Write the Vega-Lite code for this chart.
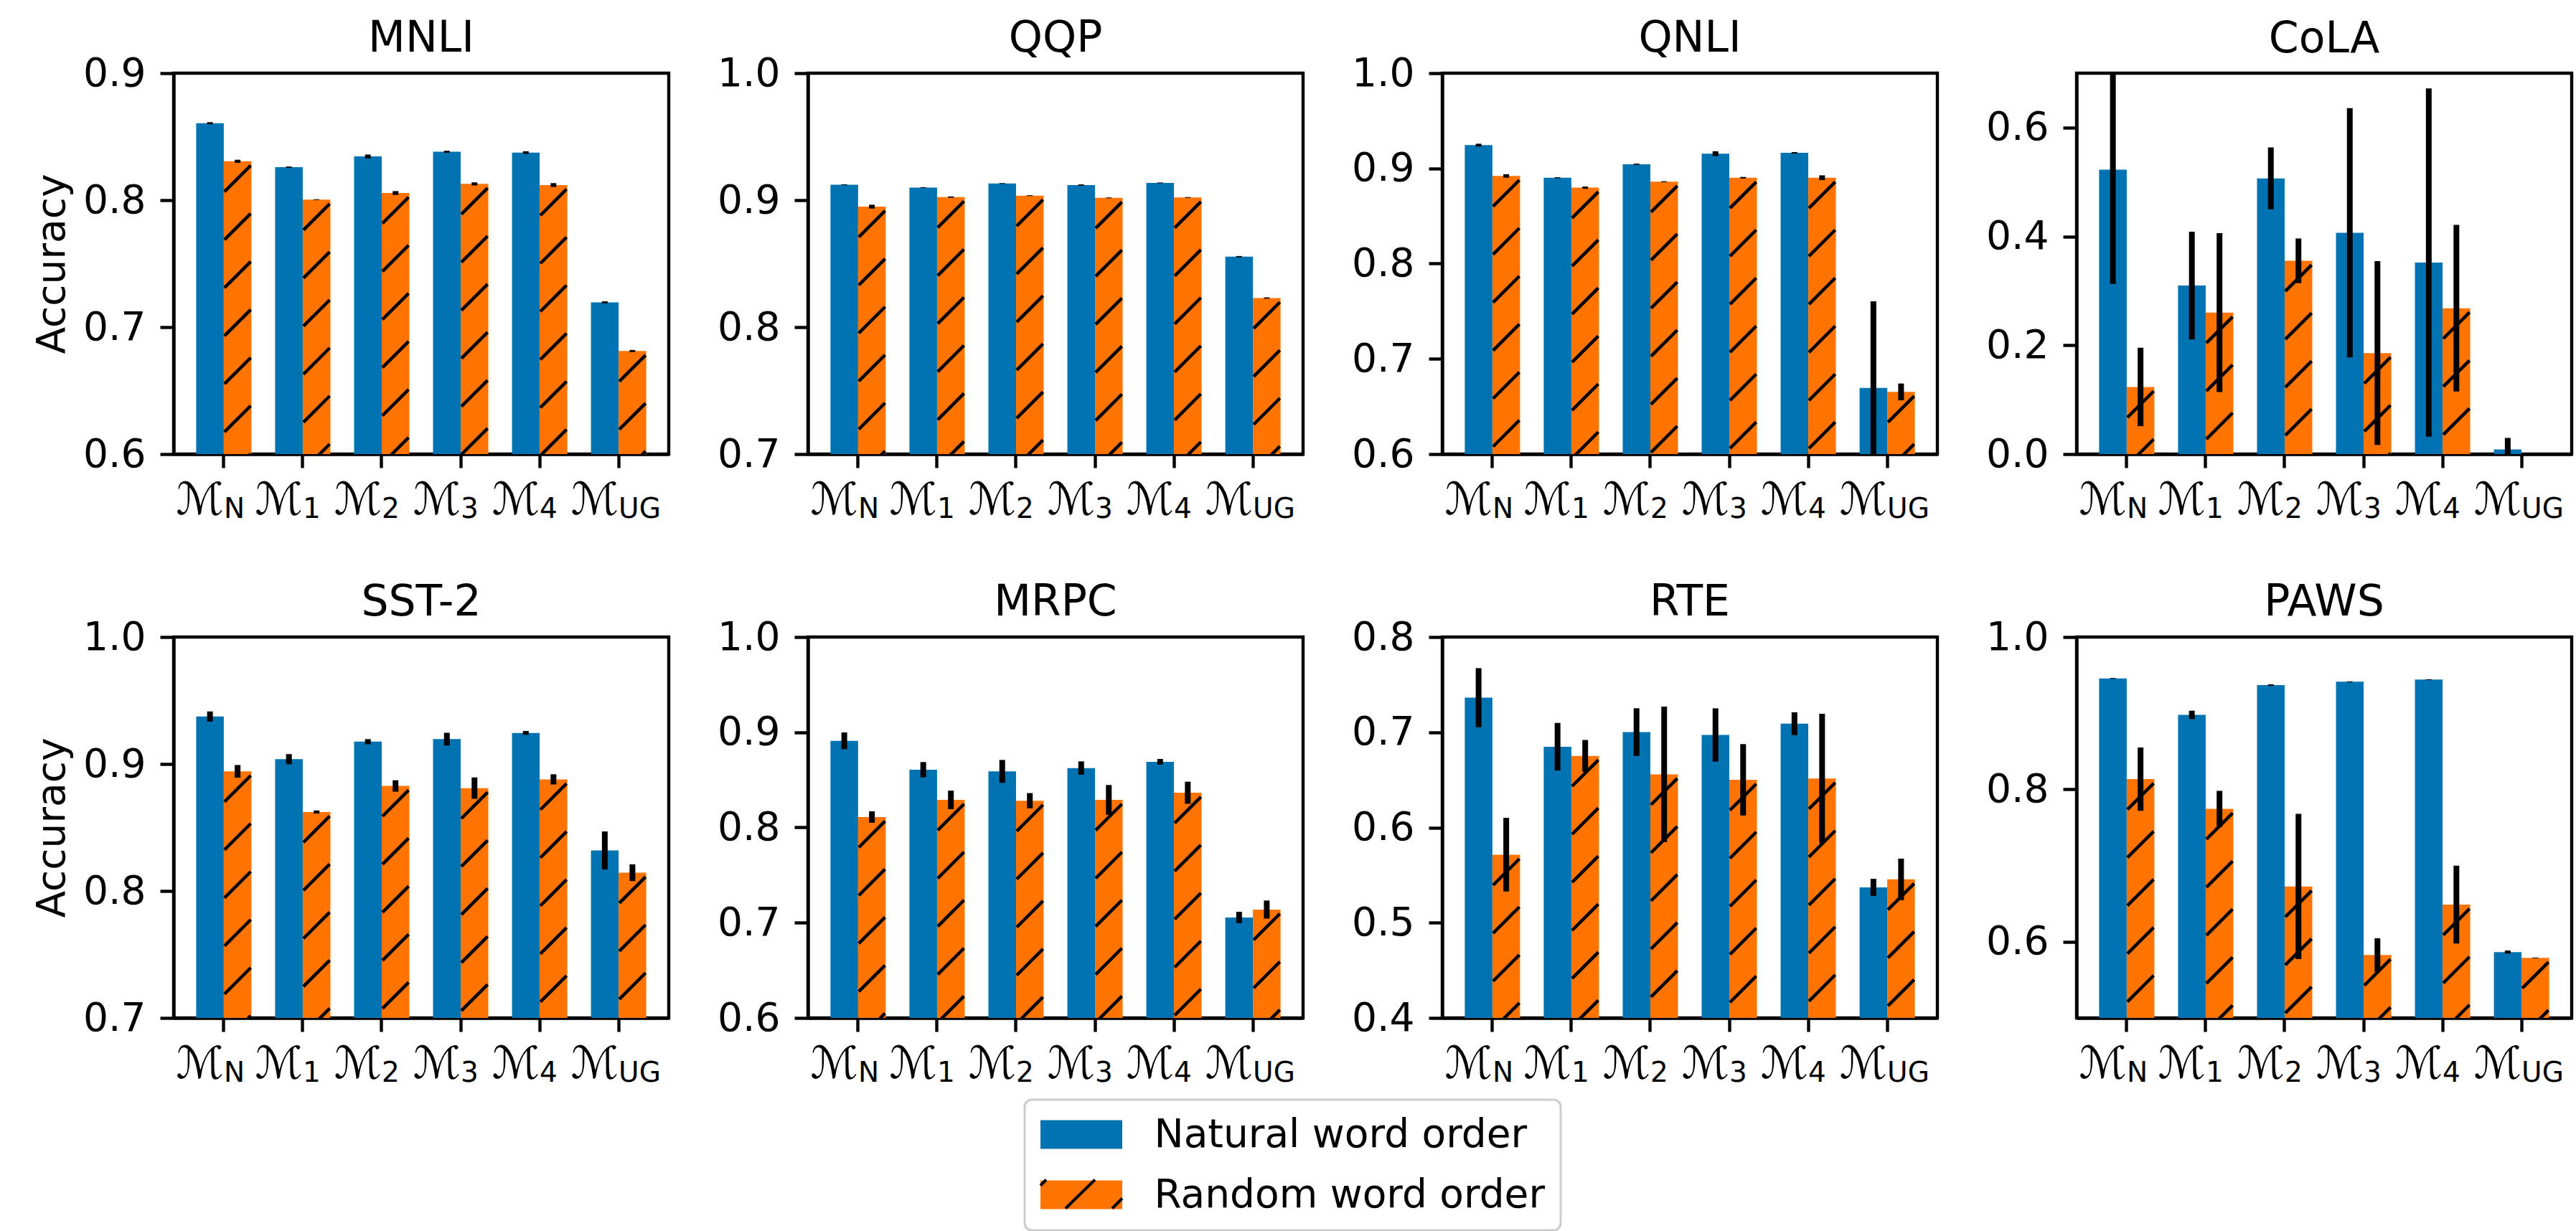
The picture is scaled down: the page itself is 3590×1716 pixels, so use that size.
{
"$schema": "https://vega.github.io/schema/vega-lite/v6.json",
"padding": {"left": 43, "top": 21, "right": 20, "bottom": 20},
"background": "white",
"data": {"values": [
{"task":"MNLI","model":"N","order":"Natural word order","acc":0.8606,"lo":0.8598,"hi":0.8614},
{"task":"MNLI","model":"N","order":"Random word order","acc":0.8306,"lo":0.8294,"hi":0.8318},
{"task":"MNLI","model":"1","order":"Natural word order","acc":0.826,"lo":0.8255,"hi":0.8265},
{"task":"MNLI","model":"1","order":"Random word order","acc":0.8004,"lo":0.8001,"hi":0.8007},
{"task":"MNLI","model":"2","order":"Natural word order","acc":0.8344,"lo":0.8329,"hi":0.8359},
{"task":"MNLI","model":"2","order":"Random word order","acc":0.8056,"lo":0.8041,"hi":0.8071},
{"task":"MNLI","model":"3","order":"Natural word order","acc":0.8381,"lo":0.8373,"hi":0.8389},
{"task":"MNLI","model":"3","order":"Random word order","acc":0.8128,"lo":0.8116,"hi":0.814},
{"task":"MNLI","model":"4","order":"Natural word order","acc":0.8375,"lo":0.8365,"hi":0.8385},
{"task":"MNLI","model":"4","order":"Random word order","acc":0.8119,"lo":0.8104,"hi":0.8134},
{"task":"MNLI","model":"UG","order":"Natural word order","acc":0.7195,"lo":0.7187,"hi":0.7203},
{"task":"MNLI","model":"UG","order":"Random word order","acc":0.6812,"lo":0.6804,"hi":0.682},
{"task":"QQP","model":"N","order":"Natural word order","acc":0.9122,"lo":0.9119,"hi":0.9125},
{"task":"QQP","model":"N","order":"Random word order","acc":0.8949,"lo":0.8934,"hi":0.8964},
{"task":"QQP","model":"1","order":"Natural word order","acc":0.9099,"lo":0.9096,"hi":0.9102},
{"task":"QQP","model":"1","order":"Random word order","acc":0.9024,"lo":0.9019,"hi":0.9029},
{"task":"QQP","model":"2","order":"Natural word order","acc":0.9131,"lo":0.9128,"hi":0.9134},
{"task":"QQP","model":"2","order":"Random word order","acc":0.9036,"lo":0.9033,"hi":0.9039},
{"task":"QQP","model":"3","order":"Natural word order","acc":0.9119,"lo":0.9114,"hi":0.9124},
{"task":"QQP","model":"3","order":"Random word order","acc":0.9018,"lo":0.9015,"hi":0.9021},
{"task":"QQP","model":"4","order":"Natural word order","acc":0.9136,"lo":0.9133,"hi":0.9139},
{"task":"QQP","model":"4","order":"Random word order","acc":0.9021,"lo":0.9018,"hi":0.9024},
{"task":"QQP","model":"UG","order":"Natural word order","acc":0.8555,"lo":0.855,"hi":0.856},
{"task":"QQP","model":"UG","order":"Random word order","acc":0.8229,"lo":0.8224,"hi":0.8234},
{"task":"QNLI","model":"N","order":"Natural word order","acc":0.9244,"lo":0.9229,"hi":0.9259},
{"task":"QNLI","model":"N","order":"Random word order","acc":0.8921,"lo":0.8903,"hi":0.8939},
{"task":"QNLI","model":"1","order":"Natural word order","acc":0.8902,"lo":0.8897,"hi":0.8907},
{"task":"QNLI","model":"1","order":"Random word order","acc":0.8798,"lo":0.8786,"hi":0.881},
{"task":"QNLI","model":"2","order":"Natural word order","acc":0.9044,"lo":0.9038,"hi":0.905},
{"task":"QNLI","model":"2","order":"Random word order","acc":0.886,"lo":0.8855,"hi":0.8865},
{"task":"QNLI","model":"3","order":"Natural word order","acc":0.9155,"lo":0.913,"hi":0.918},
{"task":"QNLI","model":"3","order":"Random word order","acc":0.8902,"lo":0.8894,"hi":0.891},
{"task":"QNLI","model":"4","order":"Natural word order","acc":0.9163,"lo":0.9155,"hi":0.9171},
{"task":"QNLI","model":"4","order":"Random word order","acc":0.8902,"lo":0.8877,"hi":0.8927},
{"task":"QNLI","model":"UG","order":"Natural word order","acc":0.6695,"lo":0.5785,"hi":0.7605},
{"task":"QNLI","model":"UG","order":"Random word order","acc":0.6653,"lo":0.6565,"hi":0.6741},
{"task":"CoLA","model":"N","order":"Natural word order","acc":0.5228,"lo":0.3128,"hi":0.7328},
{"task":"CoLA","model":"N","order":"Random word order","acc":0.1233,"lo":0.0513,"hi":0.1953},
{"task":"CoLA","model":"1","order":"Natural word order","acc":0.3097,"lo":0.2107,"hi":0.4087},
{"task":"CoLA","model":"1","order":"Random word order","acc":0.26,"lo":0.114,"hi":0.406},
{"task":"CoLA","model":"2","order":"Natural word order","acc":0.5067,"lo":0.4497,"hi":0.5637},
{"task":"CoLA","model":"2","order":"Random word order","acc":0.3552,"lo":0.3142,"hi":0.3962},
{"task":"CoLA","model":"3","order":"Natural word order","acc":0.4068,"lo":0.1778,"hi":0.6358},
{"task":"CoLA","model":"3","order":"Random word order","acc":0.1857,"lo":0.0167,"hi":0.3547},
{"task":"CoLA","model":"4","order":"Natural word order","acc":0.3519,"lo":0.0319,"hi":0.6719},
{"task":"CoLA","model":"4","order":"Random word order","acc":0.2681,"lo":0.1151,"hi":0.4211},
{"task":"CoLA","model":"UG","order":"Natural word order","acc":0.0087,"lo":-0.0123,"hi":0.0297},
{"task":"CoLA","model":"UG","order":"Random word order","acc":0,"lo":0,"hi":0},
{"task":"SST-2","model":"N","order":"Natural word order","acc":0.9374,"lo":0.9334,"hi":0.9414},
{"task":"SST-2","model":"N","order":"Random word order","acc":0.8942,"lo":0.8892,"hi":0.8992},
{"task":"SST-2","model":"1","order":"Natural word order","acc":0.9038,"lo":0.8998,"hi":0.9078},
{"task":"SST-2","model":"1","order":"Random word order","acc":0.8622,"lo":0.861,"hi":0.8634},
{"task":"SST-2","model":"2","order":"Natural word order","acc":0.9176,"lo":0.9156,"hi":0.9196},
{"task":"SST-2","model":"2","order":"Random word order","acc":0.8827,"lo":0.8782,"hi":0.8872},
{"task":"SST-2","model":"3","order":"Natural word order","acc":0.9196,"lo":0.9146,"hi":0.9246},
{"task":"SST-2","model":"3","order":"Random word order","acc":0.881,"lo":0.8726,"hi":0.8894},
{"task":"SST-2","model":"4","order":"Natural word order","acc":0.9245,"lo":0.923,"hi":0.926},
{"task":"SST-2","model":"4","order":"Random word order","acc":0.8879,"lo":0.8839,"hi":0.8919},
{"task":"SST-2","model":"UG","order":"Natural word order","acc":0.8319,"lo":0.8169,"hi":0.8469},
{"task":"SST-2","model":"UG","order":"Random word order","acc":0.8144,"lo":0.8078,"hi":0.821},
{"task":"MRPC","model":"N","order":"Natural word order","acc":0.891,"lo":0.8822,"hi":0.8998},
{"task":"MRPC","model":"N","order":"Random word order","acc":0.811,"lo":0.805,"hi":0.817},
{"task":"MRPC","model":"1","order":"Natural word order","acc":0.8607,"lo":0.8527,"hi":0.8687},
{"task":"MRPC","model":"1","order":"Random word order","acc":0.829,"lo":0.8193,"hi":0.8387},
{"task":"MRPC","model":"2","order":"Natural word order","acc":0.8589,"lo":0.8469,"hi":0.8709},
{"task":"MRPC","model":"2","order":"Random word order","acc":0.8281,"lo":0.8201,"hi":0.8361},
{"task":"MRPC","model":"3","order":"Natural word order","acc":0.8624,"lo":0.8554,"hi":0.8694},
{"task":"MRPC","model":"3","order":"Random word order","acc":0.829,"lo":0.8134,"hi":0.8446},
{"task":"MRPC","model":"4","order":"Natural word order","acc":0.869,"lo":0.866,"hi":0.872},
{"task":"MRPC","model":"4","order":"Random word order","acc":0.8365,"lo":0.8249,"hi":0.8481},
{"task":"MRPC","model":"UG","order":"Natural word order","acc":0.7055,"lo":0.6995,"hi":0.7115},
{"task":"MRPC","model":"UG","order":"Random word order","acc":0.7138,"lo":0.7043,"hi":0.7233},
{"task":"RTE","model":"N","order":"Natural word order","acc":0.7363,"lo":0.7053,"hi":0.7673},
{"task":"RTE","model":"N","order":"Random word order","acc":0.5714,"lo":0.5327,"hi":0.6101},
{"task":"RTE","model":"1","order":"Natural word order","acc":0.6848,"lo":0.6598,"hi":0.7098},
{"task":"RTE","model":"1","order":"Random word order","acc":0.6752,"lo":0.6585,"hi":0.6919},
{"task":"RTE","model":"2","order":"Natural word order","acc":0.7002,"lo":0.6752,"hi":0.7252},
{"task":"RTE","model":"2","order":"Random word order","acc":0.6558,"lo":0.5846,"hi":0.727},
{"task":"RTE","model":"3","order":"Natural word order","acc":0.6971,"lo":0.6691,"hi":0.7251},
{"task":"RTE","model":"3","order":"Random word order","acc":0.6501,"lo":0.6127,"hi":0.6875},
{"task":"RTE","model":"4","order":"Natural word order","acc":0.709,"lo":0.697,"hi":0.721},
{"task":"RTE","model":"4","order":"Random word order","acc":0.6514,"lo":0.5834,"hi":0.7194},
{"task":"RTE","model":"UG","order":"Natural word order","acc":0.5371,"lo":0.5281,"hi":0.5461},
{"task":"RTE","model":"UG","order":"Random word order","acc":0.5455,"lo":0.5237,"hi":0.5673},
{"task":"PAWS","model":"N","order":"Natural word order","acc":0.9457,"lo":0.9452,"hi":0.9462},
{"task":"PAWS","model":"N","order":"Random word order","acc":0.8135,"lo":0.7719,"hi":0.8551},
{"task":"PAWS","model":"1","order":"Natural word order","acc":0.8978,"lo":0.8923,"hi":0.9033},
{"task":"PAWS","model":"1","order":"Random word order","acc":0.7744,"lo":0.7507,"hi":0.7981},
{"task":"PAWS","model":"2","order":"Natural word order","acc":0.9369,"lo":0.9359,"hi":0.9379},
{"task":"PAWS","model":"2","order":"Random word order","acc":0.6725,"lo":0.5772,"hi":0.7678},
{"task":"PAWS","model":"3","order":"Natural word order","acc":0.9413,"lo":0.9408,"hi":0.9418},
{"task":"PAWS","model":"3","order":"Random word order","acc":0.5826,"lo":0.5606,"hi":0.6046},
{"task":"PAWS","model":"4","order":"Natural word order","acc":0.9441,"lo":0.9436,"hi":0.9446},
{"task":"PAWS","model":"4","order":"Random word order","acc":0.6488,"lo":0.5978,"hi":0.6998},
{"task":"PAWS","model":"UG","order":"Natural word order","acc":0.5865,"lo":0.5845,"hi":0.5885},
{"task":"PAWS","model":"UG","order":"Random word order","acc":0.5788,"lo":0.5783,"hi":0.5793}
]},
"columns": 4,
"spacing": {"row": 255, "column": 194},
"bounds": "flush",
"concat": [
{"title": {"text": "MNLI"}, "width": 690, "height": 531,
 "transform": [{"filter": "datum.task === 'MNLI'"}],
 "encoding": {
  "x": {"field": "model", "type": "nominal", "title": null, "scale": {"domain": ["N","1","2","3","4","UG"], "paddingInner": 0.3, "paddingOuter": 0.285}, "axis": {"orient": "bottom", "labelExpr": "'ℳ'", "labelAngle": 0, "labelFontSize": 62, "labelAlign": "right", "labelBaseline": "alphabetic", "labelPadding": 64, "labelOverlap": false}},
  "xOffset": {"field": "order", "type": "nominal", "scale": {"domain": ["Natural word order","Random word order"], "paddingInner": 0, "paddingOuter": 0}},
  "y": {"field": "acc", "type": "quantitative", "title": "Accuracy", "scale": {"domain": [0.6,0.9], "zero": false, "nice": false}, "axis": {"values": [0.6,0.7,0.8,0.9], "format": ".1f", "titlePadding": 14}}
 },
 "layer": [
  {"mark": {"type": "bar", "clip": true}, "encoding": {"fill": {"field": "order", "type": "nominal", "scale": {"domain": ["Natural word order","Random word order"], "range": ["#0173B2","#FF7400"]}, "legend": {"orient": "none", "legendX": 1186, "legendY": 1431, "title": null, "symbolType": "M-2.85,-1H2.85V1H-2.85Z", "symbolSize": 1600, "symbolStrokeWidth": 0, "symbolOffset": 30.5, "labelOffset": 74, "labelFontSize": 55, "labelFont": "DejaVu Sans", "labelColor": "black", "labelLimit": 2000, "rowPadding": 28, "padding": 21, "strokeColor": "#cccccc", "cornerRadius": 10, "fillColor": "white", "symbolOpacity": 1}}}},
  {"transform": [{"filter": "datum.order === 'Random word order'"}], "mark": {"type": "point", "clip": true, "filled": false, "opacity": 1, "strokeWidth": 4.5, "size": 1482, "shape": "M-0.95,2.2L0.95,0.3M-0.95,5.68L0.95,3.78M-0.95,9.16L0.95,7.26M-0.95,12.64L0.95,10.74M-0.95,16.12L0.95,14.22M-0.95,19.6L0.95,17.7M-0.95,23.08L0.95,21.18M-0.95,26.56L0.95,24.66M-0.95,30.04L0.95,28.14"}, "encoding": {"x": {"field": "model", "type": "nominal", "title": null, "axis": null}, "stroke": {"field": "order", "type": "nominal", "scale": {"domain": ["Random word order"], "range": ["black"]}, "legend": {"orient": "none", "legendX": 1186, "legendY": 1514, "title": null, "symbolType": "M-1.1,1L0.95,-1M2.15,1L2.85,0.3M-2.85,-0.6L-2.45,-1", "symbolSize": 1600, "symbolStrokeWidth": 4, "symbolOffset": 30.5, "labelOffset": 74, "labelFontSize": 55, "labelLimit": 2000, "labelColor": "transparent", "padding": 21, "strokeColor": "transparent", "symbolFillColor": "transparent"}}}},
  {"mark": {"type": "rule", "clip": true, "color": "black", "strokeWidth": 8}, "encoding": {"x": {"field": "model", "type": "nominal", "title": null, "axis": {"orient": "bottom", "labelExpr": "datum.value", "labelAngle": 0, "labelFontSize": 39, "labelAlign": "left", "labelBaseline": "alphabetic", "labelPadding": 88, "labelOverlap": false, "domain": false, "ticks": false}}, "y": {"field": "lo", "type": "quantitative", "title": "Accuracy"}, "y2": {"field": "hi"}}}
 ],
 "resolve": {"axis": {"x": "independent"}}
},
{"title": {"text": "QQP"}, "width": 690, "height": 531,
 "transform": [{"filter": "datum.task === 'QQP'"}],
 "encoding": {
  "x": {"field": "model", "type": "nominal", "title": null, "scale": {"domain": ["N","1","2","3","4","UG"], "paddingInner": 0.3, "paddingOuter": 0.285}, "axis": {"orient": "bottom", "labelExpr": "'ℳ'", "labelAngle": 0, "labelFontSize": 62, "labelAlign": "right", "labelBaseline": "alphabetic", "labelPadding": 64, "labelOverlap": false}},
  "xOffset": {"field": "order", "type": "nominal", "scale": {"domain": ["Natural word order","Random word order"], "paddingInner": 0, "paddingOuter": 0}},
  "y": {"field": "acc", "type": "quantitative", "title": null, "scale": {"domain": [0.7,1.0], "zero": false, "nice": false}, "axis": {"values": [0.7,0.8,0.9,1.0], "format": ".1f"}}
 },
 "layer": [
  {"mark": {"type": "bar", "clip": true}, "encoding": {"fill": {"field": "order", "type": "nominal", "scale": {"domain": ["Natural word order","Random word order"], "range": ["#0173B2","#FF7400"]}, "legend": {"orient": "none", "legendX": 1186, "legendY": 1431, "title": null, "symbolType": "M-2.85,-1H2.85V1H-2.85Z", "symbolSize": 1600, "symbolStrokeWidth": 0, "symbolOffset": 30.5, "labelOffset": 74, "labelFontSize": 55, "labelFont": "DejaVu Sans", "labelColor": "black", "labelLimit": 2000, "rowPadding": 28, "padding": 21, "strokeColor": "#cccccc", "cornerRadius": 10, "fillColor": "white", "symbolOpacity": 1}}}},
  {"transform": [{"filter": "datum.order === 'Random word order'"}], "mark": {"type": "point", "clip": true, "filled": false, "opacity": 1, "strokeWidth": 4.5, "size": 1482, "shape": "M-0.95,2.2L0.95,0.3M-0.95,5.68L0.95,3.78M-0.95,9.16L0.95,7.26M-0.95,12.64L0.95,10.74M-0.95,16.12L0.95,14.22M-0.95,19.6L0.95,17.7M-0.95,23.08L0.95,21.18M-0.95,26.56L0.95,24.66M-0.95,30.04L0.95,28.14"}, "encoding": {"x": {"field": "model", "type": "nominal", "title": null, "axis": null}, "stroke": {"field": "order", "type": "nominal", "scale": {"domain": ["Random word order"], "range": ["black"]}, "legend": {"orient": "none", "legendX": 1186, "legendY": 1514, "title": null, "symbolType": "M-1.1,1L0.95,-1M2.15,1L2.85,0.3M-2.85,-0.6L-2.45,-1", "symbolSize": 1600, "symbolStrokeWidth": 4, "symbolOffset": 30.5, "labelOffset": 74, "labelFontSize": 55, "labelLimit": 2000, "labelColor": "transparent", "padding": 21, "strokeColor": "transparent", "symbolFillColor": "transparent"}}}},
  {"mark": {"type": "rule", "clip": true, "color": "black", "strokeWidth": 8}, "encoding": {"x": {"field": "model", "type": "nominal", "title": null, "axis": {"orient": "bottom", "labelExpr": "datum.value", "labelAngle": 0, "labelFontSize": 39, "labelAlign": "left", "labelBaseline": "alphabetic", "labelPadding": 88, "labelOverlap": false, "domain": false, "ticks": false}}, "y": {"field": "lo", "type": "quantitative", "title": null}, "y2": {"field": "hi"}}}
 ],
 "resolve": {"axis": {"x": "independent"}}
},
{"title": {"text": "QNLI"}, "width": 690, "height": 531,
 "transform": [{"filter": "datum.task === 'QNLI'"}],
 "encoding": {
  "x": {"field": "model", "type": "nominal", "title": null, "scale": {"domain": ["N","1","2","3","4","UG"], "paddingInner": 0.3, "paddingOuter": 0.285}, "axis": {"orient": "bottom", "labelExpr": "'ℳ'", "labelAngle": 0, "labelFontSize": 62, "labelAlign": "right", "labelBaseline": "alphabetic", "labelPadding": 64, "labelOverlap": false}},
  "xOffset": {"field": "order", "type": "nominal", "scale": {"domain": ["Natural word order","Random word order"], "paddingInner": 0, "paddingOuter": 0}},
  "y": {"field": "acc", "type": "quantitative", "title": null, "scale": {"domain": [0.6,1.0], "zero": false, "nice": false}, "axis": {"values": [0.6,0.7,0.8,0.9,1.0], "format": ".1f"}}
 },
 "layer": [
  {"mark": {"type": "bar", "clip": true}, "encoding": {"fill": {"field": "order", "type": "nominal", "scale": {"domain": ["Natural word order","Random word order"], "range": ["#0173B2","#FF7400"]}, "legend": {"orient": "none", "legendX": 1186, "legendY": 1431, "title": null, "symbolType": "M-2.85,-1H2.85V1H-2.85Z", "symbolSize": 1600, "symbolStrokeWidth": 0, "symbolOffset": 30.5, "labelOffset": 74, "labelFontSize": 55, "labelFont": "DejaVu Sans", "labelColor": "black", "labelLimit": 2000, "rowPadding": 28, "padding": 21, "strokeColor": "#cccccc", "cornerRadius": 10, "fillColor": "white", "symbolOpacity": 1}}}},
  {"transform": [{"filter": "datum.order === 'Random word order'"}], "mark": {"type": "point", "clip": true, "filled": false, "opacity": 1, "strokeWidth": 4.5, "size": 1482, "shape": "M-0.95,2.2L0.95,0.3M-0.95,5.68L0.95,3.78M-0.95,9.16L0.95,7.26M-0.95,12.64L0.95,10.74M-0.95,16.12L0.95,14.22M-0.95,19.6L0.95,17.7M-0.95,23.08L0.95,21.18M-0.95,26.56L0.95,24.66M-0.95,30.04L0.95,28.14"}, "encoding": {"x": {"field": "model", "type": "nominal", "title": null, "axis": null}, "stroke": {"field": "order", "type": "nominal", "scale": {"domain": ["Random word order"], "range": ["black"]}, "legend": {"orient": "none", "legendX": 1186, "legendY": 1514, "title": null, "symbolType": "M-1.1,1L0.95,-1M2.15,1L2.85,0.3M-2.85,-0.6L-2.45,-1", "symbolSize": 1600, "symbolStrokeWidth": 4, "symbolOffset": 30.5, "labelOffset": 74, "labelFontSize": 55, "labelLimit": 2000, "labelColor": "transparent", "padding": 21, "strokeColor": "transparent", "symbolFillColor": "transparent"}}}},
  {"mark": {"type": "rule", "clip": true, "color": "black", "strokeWidth": 8}, "encoding": {"x": {"field": "model", "type": "nominal", "title": null, "axis": {"orient": "bottom", "labelExpr": "datum.value", "labelAngle": 0, "labelFontSize": 39, "labelAlign": "left", "labelBaseline": "alphabetic", "labelPadding": 88, "labelOverlap": false, "domain": false, "ticks": false}}, "y": {"field": "lo", "type": "quantitative", "title": null}, "y2": {"field": "hi"}}}
 ],
 "resolve": {"axis": {"x": "independent"}}
},
{"title": {"text": "CoLA", "offset": 16}, "width": 690, "height": 531,
 "transform": [{"filter": "datum.task === 'CoLA'"}],
 "encoding": {
  "x": {"field": "model", "type": "nominal", "title": null, "scale": {"domain": ["N","1","2","3","4","UG"], "paddingInner": 0.3, "paddingOuter": 0.285}, "axis": {"orient": "bottom", "labelExpr": "'ℳ'", "labelAngle": 0, "labelFontSize": 62, "labelAlign": "right", "labelBaseline": "alphabetic", "labelPadding": 64, "labelOverlap": false}},
  "xOffset": {"field": "order", "type": "nominal", "scale": {"domain": ["Natural word order","Random word order"], "paddingInner": 0, "paddingOuter": 0}},
  "y": {"field": "acc", "type": "quantitative", "title": null, "scale": {"domain": [0,0.7], "zero": false, "nice": false}, "axis": {"values": [0,0.2,0.4,0.6], "format": ".1f"}}
 },
 "layer": [
  {"mark": {"type": "bar", "clip": true}, "encoding": {"fill": {"field": "order", "type": "nominal", "scale": {"domain": ["Natural word order","Random word order"], "range": ["#0173B2","#FF7400"]}, "legend": {"orient": "none", "legendX": 1186, "legendY": 1431, "title": null, "symbolType": "M-2.85,-1H2.85V1H-2.85Z", "symbolSize": 1600, "symbolStrokeWidth": 0, "symbolOffset": 30.5, "labelOffset": 74, "labelFontSize": 55, "labelFont": "DejaVu Sans", "labelColor": "black", "labelLimit": 2000, "rowPadding": 28, "padding": 21, "strokeColor": "#cccccc", "cornerRadius": 10, "fillColor": "white", "symbolOpacity": 1}}}},
  {"transform": [{"filter": "datum.order === 'Random word order'"}], "mark": {"type": "point", "clip": true, "filled": false, "opacity": 1, "strokeWidth": 4.5, "size": 1482, "shape": "M-0.95,2.2L0.95,0.3M-0.95,5.68L0.95,3.78M-0.95,9.16L0.95,7.26M-0.95,12.64L0.95,10.74M-0.95,16.12L0.95,14.22M-0.95,19.6L0.95,17.7M-0.95,23.08L0.95,21.18M-0.95,26.56L0.95,24.66M-0.95,30.04L0.95,28.14"}, "encoding": {"x": {"field": "model", "type": "nominal", "title": null, "axis": null}, "stroke": {"field": "order", "type": "nominal", "scale": {"domain": ["Random word order"], "range": ["black"]}, "legend": {"orient": "none", "legendX": 1186, "legendY": 1514, "title": null, "symbolType": "M-1.1,1L0.95,-1M2.15,1L2.85,0.3M-2.85,-0.6L-2.45,-1", "symbolSize": 1600, "symbolStrokeWidth": 4, "symbolOffset": 30.5, "labelOffset": 74, "labelFontSize": 55, "labelLimit": 2000, "labelColor": "transparent", "padding": 21, "strokeColor": "transparent", "symbolFillColor": "transparent"}}}},
  {"mark": {"type": "rule", "clip": true, "color": "black", "strokeWidth": 8}, "encoding": {"x": {"field": "model", "type": "nominal", "title": null, "axis": {"orient": "bottom", "labelExpr": "datum.value", "labelAngle": 0, "labelFontSize": 39, "labelAlign": "left", "labelBaseline": "alphabetic", "labelPadding": 88, "labelOverlap": false, "domain": false, "ticks": false}}, "y": {"field": "lo", "type": "quantitative", "title": null}, "y2": {"field": "hi"}}}
 ],
 "resolve": {"axis": {"x": "independent"}}
},
{"title": {"text": "SST-2"}, "width": 690, "height": 531,
 "transform": [{"filter": "datum.task === 'SST-2'"}],
 "encoding": {
  "x": {"field": "model", "type": "nominal", "title": null, "scale": {"domain": ["N","1","2","3","4","UG"], "paddingInner": 0.3, "paddingOuter": 0.285}, "axis": {"orient": "bottom", "labelExpr": "'ℳ'", "labelAngle": 0, "labelFontSize": 62, "labelAlign": "right", "labelBaseline": "alphabetic", "labelPadding": 64, "labelOverlap": false}},
  "xOffset": {"field": "order", "type": "nominal", "scale": {"domain": ["Natural word order","Random word order"], "paddingInner": 0, "paddingOuter": 0}},
  "y": {"field": "acc", "type": "quantitative", "title": "Accuracy", "scale": {"domain": [0.7,1.0], "zero": false, "nice": false}, "axis": {"values": [0.7,0.8,0.9,1.0], "format": ".1f", "titlePadding": 14}}
 },
 "layer": [
  {"mark": {"type": "bar", "clip": true}, "encoding": {"fill": {"field": "order", "type": "nominal", "scale": {"domain": ["Natural word order","Random word order"], "range": ["#0173B2","#FF7400"]}, "legend": {"orient": "none", "legendX": 1186, "legendY": 1431, "title": null, "symbolType": "M-2.85,-1H2.85V1H-2.85Z", "symbolSize": 1600, "symbolStrokeWidth": 0, "symbolOffset": 30.5, "labelOffset": 74, "labelFontSize": 55, "labelFont": "DejaVu Sans", "labelColor": "black", "labelLimit": 2000, "rowPadding": 28, "padding": 21, "strokeColor": "#cccccc", "cornerRadius": 10, "fillColor": "white", "symbolOpacity": 1}}}},
  {"transform": [{"filter": "datum.order === 'Random word order'"}], "mark": {"type": "point", "clip": true, "filled": false, "opacity": 1, "strokeWidth": 4.5, "size": 1482, "shape": "M-0.95,2.2L0.95,0.3M-0.95,5.68L0.95,3.78M-0.95,9.16L0.95,7.26M-0.95,12.64L0.95,10.74M-0.95,16.12L0.95,14.22M-0.95,19.6L0.95,17.7M-0.95,23.08L0.95,21.18M-0.95,26.56L0.95,24.66M-0.95,30.04L0.95,28.14"}, "encoding": {"x": {"field": "model", "type": "nominal", "title": null, "axis": null}, "stroke": {"field": "order", "type": "nominal", "scale": {"domain": ["Random word order"], "range": ["black"]}, "legend": {"orient": "none", "legendX": 1186, "legendY": 1514, "title": null, "symbolType": "M-1.1,1L0.95,-1M2.15,1L2.85,0.3M-2.85,-0.6L-2.45,-1", "symbolSize": 1600, "symbolStrokeWidth": 4, "symbolOffset": 30.5, "labelOffset": 74, "labelFontSize": 55, "labelLimit": 2000, "labelColor": "transparent", "padding": 21, "strokeColor": "transparent", "symbolFillColor": "transparent"}}}},
  {"mark": {"type": "rule", "clip": true, "color": "black", "strokeWidth": 8}, "encoding": {"x": {"field": "model", "type": "nominal", "title": null, "axis": {"orient": "bottom", "labelExpr": "datum.value", "labelAngle": 0, "labelFontSize": 39, "labelAlign": "left", "labelBaseline": "alphabetic", "labelPadding": 88, "labelOverlap": false, "domain": false, "ticks": false}}, "y": {"field": "lo", "type": "quantitative", "title": "Accuracy"}, "y2": {"field": "hi"}}}
 ],
 "resolve": {"axis": {"x": "independent"}}
},
{"title": {"text": "MRPC"}, "width": 690, "height": 531,
 "transform": [{"filter": "datum.task === 'MRPC'"}],
 "encoding": {
  "x": {"field": "model", "type": "nominal", "title": null, "scale": {"domain": ["N","1","2","3","4","UG"], "paddingInner": 0.3, "paddingOuter": 0.285}, "axis": {"orient": "bottom", "labelExpr": "'ℳ'", "labelAngle": 0, "labelFontSize": 62, "labelAlign": "right", "labelBaseline": "alphabetic", "labelPadding": 64, "labelOverlap": false}},
  "xOffset": {"field": "order", "type": "nominal", "scale": {"domain": ["Natural word order","Random word order"], "paddingInner": 0, "paddingOuter": 0}},
  "y": {"field": "acc", "type": "quantitative", "title": null, "scale": {"domain": [0.6,1.0], "zero": false, "nice": false}, "axis": {"values": [0.6,0.7,0.8,0.9,1.0], "format": ".1f"}}
 },
 "layer": [
  {"mark": {"type": "bar", "clip": true}, "encoding": {"fill": {"field": "order", "type": "nominal", "scale": {"domain": ["Natural word order","Random word order"], "range": ["#0173B2","#FF7400"]}, "legend": {"orient": "none", "legendX": 1186, "legendY": 1431, "title": null, "symbolType": "M-2.85,-1H2.85V1H-2.85Z", "symbolSize": 1600, "symbolStrokeWidth": 0, "symbolOffset": 30.5, "labelOffset": 74, "labelFontSize": 55, "labelFont": "DejaVu Sans", "labelColor": "black", "labelLimit": 2000, "rowPadding": 28, "padding": 21, "strokeColor": "#cccccc", "cornerRadius": 10, "fillColor": "white", "symbolOpacity": 1}}}},
  {"transform": [{"filter": "datum.order === 'Random word order'"}], "mark": {"type": "point", "clip": true, "filled": false, "opacity": 1, "strokeWidth": 4.5, "size": 1482, "shape": "M-0.95,2.2L0.95,0.3M-0.95,5.68L0.95,3.78M-0.95,9.16L0.95,7.26M-0.95,12.64L0.95,10.74M-0.95,16.12L0.95,14.22M-0.95,19.6L0.95,17.7M-0.95,23.08L0.95,21.18M-0.95,26.56L0.95,24.66M-0.95,30.04L0.95,28.14"}, "encoding": {"x": {"field": "model", "type": "nominal", "title": null, "axis": null}, "stroke": {"field": "order", "type": "nominal", "scale": {"domain": ["Random word order"], "range": ["black"]}, "legend": {"orient": "none", "legendX": 1186, "legendY": 1514, "title": null, "symbolType": "M-1.1,1L0.95,-1M2.15,1L2.85,0.3M-2.85,-0.6L-2.45,-1", "symbolSize": 1600, "symbolStrokeWidth": 4, "symbolOffset": 30.5, "labelOffset": 74, "labelFontSize": 55, "labelLimit": 2000, "labelColor": "transparent", "padding": 21, "strokeColor": "transparent", "symbolFillColor": "transparent"}}}},
  {"mark": {"type": "rule", "clip": true, "color": "black", "strokeWidth": 8}, "encoding": {"x": {"field": "model", "type": "nominal", "title": null, "axis": {"orient": "bottom", "labelExpr": "datum.value", "labelAngle": 0, "labelFontSize": 39, "labelAlign": "left", "labelBaseline": "alphabetic", "labelPadding": 88, "labelOverlap": false, "domain": false, "ticks": false}}, "y": {"field": "lo", "type": "quantitative", "title": null}, "y2": {"field": "hi"}}}
 ],
 "resolve": {"axis": {"x": "independent"}}
},
{"title": {"text": "RTE"}, "width": 690, "height": 531,
 "transform": [{"filter": "datum.task === 'RTE'"}],
 "encoding": {
  "x": {"field": "model", "type": "nominal", "title": null, "scale": {"domain": ["N","1","2","3","4","UG"], "paddingInner": 0.3, "paddingOuter": 0.285}, "axis": {"orient": "bottom", "labelExpr": "'ℳ'", "labelAngle": 0, "labelFontSize": 62, "labelAlign": "right", "labelBaseline": "alphabetic", "labelPadding": 64, "labelOverlap": false}},
  "xOffset": {"field": "order", "type": "nominal", "scale": {"domain": ["Natural word order","Random word order"], "paddingInner": 0, "paddingOuter": 0}},
  "y": {"field": "acc", "type": "quantitative", "title": null, "scale": {"domain": [0.4,0.8], "zero": false, "nice": false}, "axis": {"values": [0.4,0.5,0.6,0.7,0.8], "format": ".1f"}}
 },
 "layer": [
  {"mark": {"type": "bar", "clip": true}, "encoding": {"fill": {"field": "order", "type": "nominal", "scale": {"domain": ["Natural word order","Random word order"], "range": ["#0173B2","#FF7400"]}, "legend": {"orient": "none", "legendX": 1186, "legendY": 1431, "title": null, "symbolType": "M-2.85,-1H2.85V1H-2.85Z", "symbolSize": 1600, "symbolStrokeWidth": 0, "symbolOffset": 30.5, "labelOffset": 74, "labelFontSize": 55, "labelFont": "DejaVu Sans", "labelColor": "black", "labelLimit": 2000, "rowPadding": 28, "padding": 21, "strokeColor": "#cccccc", "cornerRadius": 10, "fillColor": "white", "symbolOpacity": 1}}}},
  {"transform": [{"filter": "datum.order === 'Random word order'"}], "mark": {"type": "point", "clip": true, "filled": false, "opacity": 1, "strokeWidth": 4.5, "size": 1482, "shape": "M-0.95,2.2L0.95,0.3M-0.95,5.68L0.95,3.78M-0.95,9.16L0.95,7.26M-0.95,12.64L0.95,10.74M-0.95,16.12L0.95,14.22M-0.95,19.6L0.95,17.7M-0.95,23.08L0.95,21.18M-0.95,26.56L0.95,24.66M-0.95,30.04L0.95,28.14"}, "encoding": {"x": {"field": "model", "type": "nominal", "title": null, "axis": null}, "stroke": {"field": "order", "type": "nominal", "scale": {"domain": ["Random word order"], "range": ["black"]}, "legend": {"orient": "none", "legendX": 1186, "legendY": 1514, "title": null, "symbolType": "M-1.1,1L0.95,-1M2.15,1L2.85,0.3M-2.85,-0.6L-2.45,-1", "symbolSize": 1600, "symbolStrokeWidth": 4, "symbolOffset": 30.5, "labelOffset": 74, "labelFontSize": 55, "labelLimit": 2000, "labelColor": "transparent", "padding": 21, "strokeColor": "transparent", "symbolFillColor": "transparent"}}}},
  {"mark": {"type": "rule", "clip": true, "color": "black", "strokeWidth": 8}, "encoding": {"x": {"field": "model", "type": "nominal", "title": null, "axis": {"orient": "bottom", "labelExpr": "datum.value", "labelAngle": 0, "labelFontSize": 39, "labelAlign": "left", "labelBaseline": "alphabetic", "labelPadding": 88, "labelOverlap": false, "domain": false, "ticks": false}}, "y": {"field": "lo", "type": "quantitative", "title": null}, "y2": {"field": "hi"}}}
 ],
 "resolve": {"axis": {"x": "independent"}}
},
{"title": {"text": "PAWS"}, "width": 690, "height": 531,
 "transform": [{"filter": "datum.task === 'PAWS'"}],
 "encoding": {
  "x": {"field": "model", "type": "nominal", "title": null, "scale": {"domain": ["N","1","2","3","4","UG"], "paddingInner": 0.3, "paddingOuter": 0.285}, "axis": {"orient": "bottom", "labelExpr": "'ℳ'", "labelAngle": 0, "labelFontSize": 62, "labelAlign": "right", "labelBaseline": "alphabetic", "labelPadding": 64, "labelOverlap": false}},
  "xOffset": {"field": "order", "type": "nominal", "scale": {"domain": ["Natural word order","Random word order"], "paddingInner": 0, "paddingOuter": 0}},
  "y": {"field": "acc", "type": "quantitative", "title": null, "scale": {"domain": [0.5,1.0], "zero": false, "nice": false}, "axis": {"values": [0.6,0.8,1.0], "format": ".1f"}}
 },
 "layer": [
  {"mark": {"type": "bar", "clip": true}, "encoding": {"fill": {"field": "order", "type": "nominal", "scale": {"domain": ["Natural word order","Random word order"], "range": ["#0173B2","#FF7400"]}, "legend": {"orient": "none", "legendX": 1186, "legendY": 1431, "title": null, "symbolType": "M-2.85,-1H2.85V1H-2.85Z", "symbolSize": 1600, "symbolStrokeWidth": 0, "symbolOffset": 30.5, "labelOffset": 74, "labelFontSize": 55, "labelFont": "DejaVu Sans", "labelColor": "black", "labelLimit": 2000, "rowPadding": 28, "padding": 21, "strokeColor": "#cccccc", "cornerRadius": 10, "fillColor": "white", "symbolOpacity": 1}}}},
  {"transform": [{"filter": "datum.order === 'Random word order'"}], "mark": {"type": "point", "clip": true, "filled": false, "opacity": 1, "strokeWidth": 4.5, "size": 1482, "shape": "M-0.95,2.2L0.95,0.3M-0.95,5.68L0.95,3.78M-0.95,9.16L0.95,7.26M-0.95,12.64L0.95,10.74M-0.95,16.12L0.95,14.22M-0.95,19.6L0.95,17.7M-0.95,23.08L0.95,21.18M-0.95,26.56L0.95,24.66M-0.95,30.04L0.95,28.14"}, "encoding": {"x": {"field": "model", "type": "nominal", "title": null, "axis": null}, "stroke": {"field": "order", "type": "nominal", "scale": {"domain": ["Random word order"], "range": ["black"]}, "legend": {"orient": "none", "legendX": 1186, "legendY": 1514, "title": null, "symbolType": "M-1.1,1L0.95,-1M2.15,1L2.85,0.3M-2.85,-0.6L-2.45,-1", "symbolSize": 1600, "symbolStrokeWidth": 4, "symbolOffset": 30.5, "labelOffset": 74, "labelFontSize": 55, "labelLimit": 2000, "labelColor": "transparent", "padding": 21, "strokeColor": "transparent", "symbolFillColor": "transparent"}}}},
  {"mark": {"type": "rule", "clip": true, "color": "black", "strokeWidth": 8}, "encoding": {"x": {"field": "model", "type": "nominal", "title": null, "axis": {"orient": "bottom", "labelExpr": "datum.value", "labelAngle": 0, "labelFontSize": 39, "labelAlign": "left", "labelBaseline": "alphabetic", "labelPadding": 88, "labelOverlap": false, "domain": false, "ticks": false}}, "y": {"field": "lo", "type": "quantitative", "title": null}, "y2": {"field": "hi"}}}
 ],
 "resolve": {"axis": {"x": "independent"}}
}
],
"config": {
 "font": "DejaVu Sans",
 "view": {"stroke": "black", "strokeWidth": 4.4},
 "legend": {"strokeWidth": 3},
 "axis": {"domainColor": "black", "domainWidth": 4.4, "tickColor": "black", "tickWidth": 4.4, "tickSize": 19, "labelFont": "DejaVu Sans", "labelFontSize": 55, "labelColor": "black", "titleFont": "DejaVu Sans", "titleFontSize": 55, "titleFontWeight": "normal", "titleColor": "black", "grid": false, "labelPadding": 20},
 "title": {"font": "DejaVu Sans", "fontSize": 60, "fontWeight": "normal", "color": "black", "anchor": "middle", "frame": "group", "baseline": "alphabetic", "offset": -9.5}
}
}
